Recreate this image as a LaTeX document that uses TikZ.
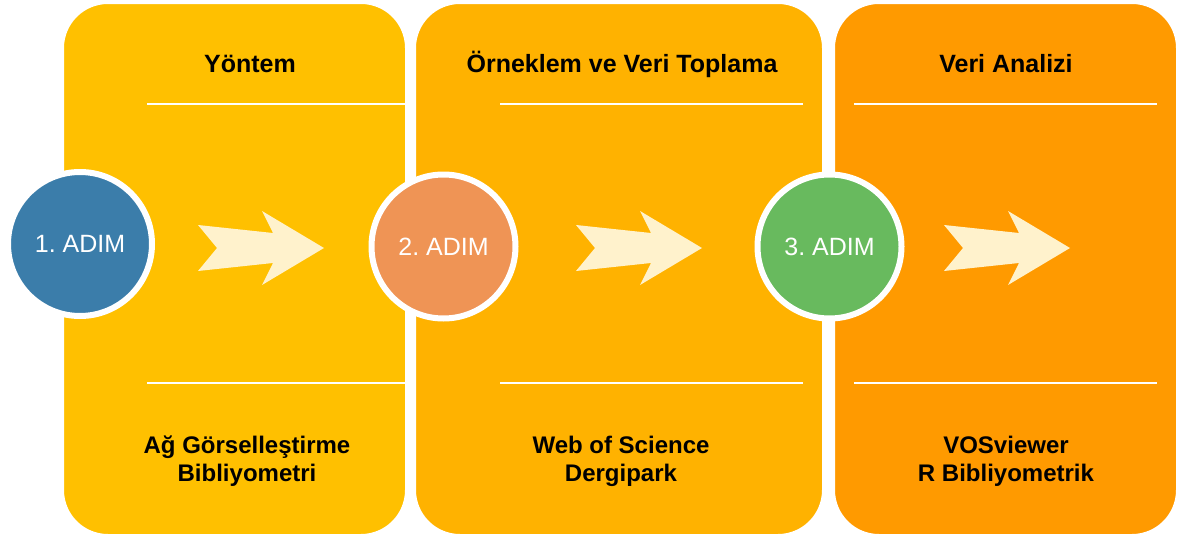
\documentclass[tikz,border=0pt]{standalone}
\usepackage{fontspec}
\setmainfont{Liberation Sans}
\frenchspacing
\definecolor{panelone}{HTML}{FFC000}
\definecolor{paneltwo}{HTML}{FFB200}
\definecolor{panelthree}{HTML}{FF9A00}
\definecolor{stepblue}{HTML}{3B7DAA}
\definecolor{steporange}{HTML}{EF9455}
\definecolor{stepgreen}{HTML}{68BA5E}
\definecolor{arrowcream}{HTML}{FFF2CC}
\tikzstyle{panel} = [draw=white, line width=2pt, rounded corners=45pt, minimum height=532pt, inner sep=0pt]

\begin{document}
\begin{tikzpicture}[x=1pt,y=-1pt,
			badge/.style={circle, draw=white, line width=6pt, minimum size=144pt, inner sep=0pt, text=white, font=\fontsize{25}{30}\selectfont},
			head/.style={anchor=base, font=\bfseries\fontsize{25}{30}\selectfont},
			tools/.style={anchor=base, align=center, font=\bfseries\fontsize{24}{28}\selectfont},
			rule/.style={white, line width=2pt}]
			\useasboundingbox (0,0) rectangle (1179,538);
			
			\node (panel1)[panel, fill=panelone, minimum width=343pt] at (234.5,269) {};
			\node (panel2)[panel, fill=paneltwo, minimum width=408pt] at (619,269) {};
			\node (panel3)[panel, fill=panelthree, minimum width=343pt] at (1005.5,269) {};
			
			\foreach \a/\b in {147/406, 500/803, 854/1157} {
				\draw[rule] (\a,104) -- (\b,104);
				\draw[rule] (\a,383) -- (\b,383);
			}
			
			\foreach \dx in {0,378,746}
			\fill[arrowcream, xshift=\dx pt] (198,225) -- (273,233) -- (262,211) -- (324,248) -- (262,285) -- (273,263) -- (198,271) -- (217,248) -- cycle;
			
			\node (head1)[head] at (250,72) {Yöntem};
			\node (head2)[head] at (622,72) {Örneklem ve Veri Toplama};
			\node (head3)[head] at (1006,72) {Veri Analizi};
			
			% base anchor sits on the second line
			\node (tools1)[tools] at (247,481) {Ağ Görselleştirme\\Bibliyometri};
			\node (tools2)[tools] at (621,481) {Web of Science\\Dergipark};
			\node (tools3)[tools] at (1006,481) {VOSviewer\\R Bibliyometrik};
			
			\node (step1)[badge, fill=stepblue] at (80,244) {1. ADIM};
			\node (step2)[badge, fill=steporange] at (443.5,246.5) {2. ADIM};
			\node (step3)[badge, fill=stepgreen] at (829.5,246.5) {3. ADIM};
		\end{tikzpicture}
\end{document}
